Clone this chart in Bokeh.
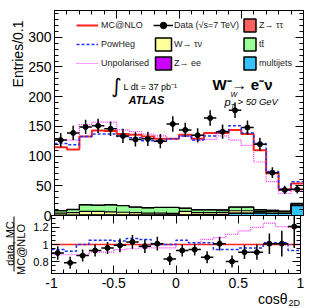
import numpy as np
from bokeh.plotting import figure
from bokeh.layouts import column, row
from bokeh.models import (Range1d, LinearAxis, SingleIntervalTicker, CustomJSTickFormatter,
                          Label, Legend, LegendItem, BoxAnnotation)
from bokeh.embed import file_html
from bokeh.resources import INLINE

# ---------------- data ----------------
bin_lo, bin_hi, n_bins = -1.0, 1.0, 20

data = [127, 139, 149, 151, 146, 134, 128, 129, 125, 154, 144, 135, 164, 141, 177, 148, 120, 72, 43, 44]
data_err = [12, 12, 12, 12, 12, 12, 12, 12, 12, 13, 12, 12, 13, 12, 13, 12, 11, 9, 7, 7]
mcnlo = [115, 111, 133, 143, 142, 137, 136, 133, 129, 129, 136, 129, 139, 139, 144, 137, 110, 71, 44, 54]
powheg = [121, 119, 133, 137, 137, 133, 131, 126, 126, 129, 134, 127, 134, 142, 151, 139, 121, 74, 44, 57]
unpol = [127, 127, 153, 157, 157, 144, 141, 137, 134, 129, 133, 127, 128, 134, 127, 118, 90, 57, 37, 42]

multijets = [0.2, 0.2, 0.3, 0.3, 0.3, 0.3, 0.4, 0.4, 0.5, 0.5, 0.6, 0.8, 1.0, 1.5, 3.5, 3.5, 4.0, 3.5, 3.5, 16.5]
zee = [0.6, 0.6, 0.7, 0.7, 0.7, 0.6, 0.6, 0.6, 0.6, 0.6, 0.6, 0.6, 0.6, 0.6, 0.6, 0.6, 0.6, 0.6, 0.5, 0.5]
wtaunu = [3.2, 4.2, 6.0, 6.0, 5.0, 4.6, 4.0, 3.0, 2.9, 2.4, 5.8, 3.6, 3.4, 3.0, 3.9, 3.9, 2.4, 2.9, 2.5, 1.0]
ttbar = [4.0, 5.0, 11.0, 10.0, 12.0, 11.0, 9.0, 9.0, 9.5, 10.0, 5.0, 4.5, 4.5, 4.0, 6.0, 6.0, 2.5, 1.5, 0.5, 2.0]
ztautau = [0.3] * 20

r_data = [0.90, 0.785, 0.87, 0.93, 0.96, 0.99, 1.03, 0.98, 1.01, 0.83, 0.93, 0.94, 0.85, 1.01, 0.80, 0.91, 0.91, 1.01, 1.01, 1.21]
r_data_err = [0.08, 0.07, 0.07, 0.07, 0.07, 0.08, 0.08, 0.08, 0.08, 0.07, 0.07, 0.07, 0.07, 0.08, 0.07, 0.08, 0.09, 0.12, 0.15, 0.25]
r_powheg = [0.94, 0.92, 1.0, 1.05, 1.05, 1.04, 1.07, 1.06, 1.0, 1.0, 1.05, 1.02, 1.02, 0.94, 0.94, 0.96, 0.96, 1.02, 1.02, 0.93]
r_unpol = [0.88, 0.88, 0.88, 0.91, 0.91, 0.94, 0.95, 0.96, 0.96, 0.96, 1.0, 1.0, 1.06, 1.08, 1.12, 1.16, 1.2, 1.25, 1.21, 1.2]
r_mcnlo = [m / m for m in mcnlo]

bkg_names = ["multijets", "Z\u2192 ee", "W\u2192 \u03c4\u03bd", "tt\u0304", "Z\u2192 \u03c4\u03c4"]
bkg_vals = [multijets, zee, wtaunu, ttbar, ztautau]
bkg_colors = ["#33c3ff", "#cc00ff", "#ffff99", "#99ff99", "#ff6060"]

FONT = "Liberation Sans"

main_lo, main_hi = 0, 345
ratio_lo, ratio_hi = 0.66, 1.34
FW = 249           # frame width
FL = 51            # frame left (page px)
FT = 10            # frame top
H1 = 205           # main frame height
HR = 58            # ratio frame height
OV = 8             # overlap of the ratio row over the main row's bottom border
BB2 = 22           # ratio bottom border (tick labels)
H3 = 20            # x-title strip
PAGE_W, PAGE_H = 316, 308
RB = PAGE_W - FL - FW

edges = np.linspace(bin_lo, bin_hi, n_bins + 1)
centers = 0.5 * (edges[:-1] + edges[1:])
half = 0.5 * (edges[1] - edges[0])


def sy(v):
    v = list(v)
    return v + [v[-1]]


fmt = CustomJSTickFormatter(code="return String(Math.round(tick*10)/10);")
blank = CustomJSTickFormatter(code="return '';")


def axis(ticker, labelled, size="14px", standoff=3, **kw):
    return LinearAxis(ticker=ticker, formatter=fmt if labelled else blank,
                      major_tick_in=8, major_tick_out=0, minor_tick_in=4, minor_tick_out=0,
                      axis_line_color="black", major_tick_line_color="black",
                      minor_tick_line_color="black",
                      major_label_standoff=standoff if labelled else 0,
                      major_label_text_font=FONT,
                      major_label_text_font_size=size if labelled else "0px",
                      major_label_text_color="black" if labelled else None, **kw)


def base_fig(fw, fh, xr, yr, bl, br, bt, bb, transparent=False):
    p = figure(frame_width=fw, frame_height=fh, min_border_left=bl, min_border_right=br,
               min_border_top=bt, min_border_bottom=bb,
               x_range=Range1d(*xr), y_range=Range1d(*yr),
               output_backend="svg", toolbar_location=None,
               x_axis_location=None, y_axis_location=None)
    p.grid.visible = False
    p.outline_line_color = "black"
    if transparent:
        p.outline_line_color = None
        p.background_fill_alpha = 0
        p.border_fill_alpha = 0
    else:
        p.background_fill_color = "white"
        p.border_fill_color = "white"
    return p


def lab(p, text, x, y, size, style="normal", align="left", base="middle", angle=0, font=FONT, color="black"):
    p.add_layout(Label(x=x, y=y, x_units="screen", y_units="screen", text=text,
                       text_font=font, text_font_size=size, text_font_style=style,
                       text_align=align, text_baseline=base, angle=angle, text_color=color))


xt = SingleIntervalTicker(interval=0.5, num_minor_ticks=5)

# ---------------- main panel ----------------
L1 = 25
p1 = base_fig(FW, H1, (bin_lo, bin_hi), (main_lo, main_hi), FL - L1, RB, FT, OV)
yt1 = SingleIntervalTicker(interval=50, num_minor_ticks=5)
p1.add_layout(axis(yt1, True), "left")
p1.add_layout(axis(yt1, False), "right")
p1.add_layout(axis(xt, False), "above")
p1.add_layout(axis(xt, False), "below")

cum = np.zeros(n_bins)
tops = []
boxes = {}
for name, vals, col in zip(bkg_names, bkg_vals, bkg_colors):
    low = cum.copy()
    cum = cum + np.array(vals)
    p1.varea_step(x=edges, y1=sy(low), y2=sy(cum), step_mode="after", fill_color=col)
    boxes[name] = p1.quad(left=edges[:-1], right=edges[1:], bottom=low, top=cum, fill_color=col,
                          line_color="black", line_width=1.5, visible=False)
    tops.append(cum.copy())
for t in tops:
    p1.step(x=edges, y=sy(t), mode="after", line_color="black", line_width=1.2)

r_unp = p1.step(x=edges, y=sy(unpol), mode="after", line_color="#ff33ff", line_width=1.2, line_dash="1 1")
r_red = p1.step(x=edges, y=sy(mcnlo), mode="after", line_color="#ff2020", line_width=2)
r_pow = p1.step(x=edges, y=sy(powheg), mode="after", line_color="#2030ff", line_width=1.5, line_dash="3 2")

d = np.array(data)
de = np.array(data_err)
p1.segment(x0=centers, x1=centers, y0=d - de, y1=d + de, line_color="black", line_width=1.5)
r_h = p1.segment(x0=centers - half, x1=centers + half, y0=d, y1=d, line_color="black", line_width=1.5)
r_pts = p1.scatter(x=centers, y=d, size=5, color="black")


def mk_legend(items, loc, gw, standoff):
    return Legend(items=items, location=loc, glyph_width=gw, glyph_height=16, label_height=16,
                  spacing=3, padding=0, margin=0, border_line_color=None,
                  background_fill_alpha=0, inactive_fill_alpha=0,
                  label_text_font=FONT, label_text_font_size="9px",
                  label_text_color="#222222", label_standoff=standoff)


leg1 = mk_legend([LegendItem(label="MC@NLO", renderers=[r_red]),
                  LegendItem(label="PowHeg", renderers=[r_pow]),
                  LegendItem(label="Unpolarised", renderers=[r_unp])], (22, 144), 22, 3)
leg2 = mk_legend([LegendItem(label="Data (\u221as=7 TeV)", renderers=[r_h, r_pts]),
                  LegendItem(label=bkg_names[2], renderers=[boxes[bkg_names[2]]]),
                  LegendItem(label=bkg_names[1], renderers=[boxes[bkg_names[1]]])], (99, 144), 20, 1)
leg3 = mk_legend([LegendItem(label=bkg_names[4], renderers=[boxes[bkg_names[4]]]),
                  LegendItem(label=bkg_names[3], renderers=[boxes[bkg_names[3]]]),
                  LegendItem(label=bkg_names[0], renderers=[boxes[bkg_names[0]]])], (188, 144), 15, 2)
for lg in (leg1, leg2, leg3):
    p1.add_layout(lg)

# texts inside the main frame (screen px from the frame's bottom-left)
lab(p1, "\u222b", 62, 130, "20px", align="center", font="DejaVu Sans")
lab(p1, "L dt = 37 pb\u207b\u00b9", 69, 129, "9px")
lab(p1, "ATLAS", 74, 116, "11px", style="bold italic")
lab(p1, "W\u207b\u2192 e\u207b\u03bd", 158, 131, "15px", style="bold")
lab(p1, "p", 170, 114, "11px", style="italic")
lab(p1, "W", 176, 121, "7px", style="italic")
lab(p1, "T", 176, 109, "7px", style="italic")
lab(p1, "> 50 GeV", 183, 114, "9.5px", style="italic")

# left label strip for main panel (frame bottom-left = page (0, FT+H1+OV))
l1 = base_fig(L1, FT + H1 + OV, (0, 1), (0, 1), 0, 0, 0, 0, transparent=True)
lab(l1, "Entries/0.1", 17, FT + H1 + OV - 10, "14px", align="right", base="alphabetic", angle=np.pi / 2)

# ---------------- ratio panel ----------------
L2 = 28
p2 = base_fig(FW, HR, (bin_lo, bin_hi), (ratio_lo, ratio_hi), FL - L2, RB, 0, BB2)
p2.border_fill_alpha = 0
yt2 = SingleIntervalTicker(interval=0.2, num_minor_ticks=4)
p2.add_layout(axis(yt2, True, "11px"), "left")
p2.add_layout(axis(yt2, False), "right")
p2.add_layout(axis(xt, False), "above")
p2.add_layout(axis(xt, True, "14px", 4), "below")

p2.step(x=edges, y=sy(r_unpol), mode="after", line_color="#ff33ff", line_width=1.2, line_dash="1 1")
p2.step(x=edges, y=sy(r_mcnlo), mode="after", line_color="#ff2020", line_width=1.5)
p2.step(x=edges, y=sy(r_powheg), mode="after", line_color="#2030ff", line_width=1.5, line_dash="3 2")
rd = np.array(r_data)
rde = np.array(r_data_err)
p2.segment(x0=centers, x1=centers, y0=rd - rde, y1=rd + rde, line_color="black", line_width=1.5)
p2.segment(x0=centers - half, x1=centers + half, y0=rd, y1=rd, line_color="black", line_width=1.5)
p2.scatter(x=centers, y=rd, size=5, color="black")

# left label strip for ratio panel (frame bottom-left = page (0, 295))
r2_bottom = FT + H1 + HR + BB2
l2 = base_fig(L2, HR + BB2, (0, 1), (0, 1), 0, 0, 0, 0, transparent=True)
lab(l2, "data, MC", 9, r2_bottom - 243, "11px", align="center", base="middle", angle=np.pi / 2)
l2.add_layout(BoxAnnotation(left=13, right=14, bottom=r2_bottom - 271, top=r2_bottom - 216,
                            left_units="screen", right_units="screen", bottom_units="screen",
                            top_units="screen", fill_color="black", fill_alpha=1, line_color=None))
lab(l2, "MC@NLO", 20, r2_bottom - 249, "11px", align="center", base="middle", angle=np.pi / 2)

# x-axis title strip (frame bottom-left = page (0, 308))
p3 = base_fig(PAGE_W, H3, (0, 1), (0, 1), 0, 0, 0, 0, transparent=True)
lab(p3, "cos\u03b8", 287, PAGE_H - 298, "14px", align="right", base="alphabetic")
lab(p3, "2D", 288, PAGE_H - 302, "9px", align="left", base="alphabetic")

row2 = row(l2, p2, spacing=0, styles={"margin-top": "-%dpx" % OV})
wrap3 = column(p3, spacing=0, styles={"margin-top": "-%dpx" % (r2_bottom + H3 - PAGE_H)})
layout = column(row(l1, p1, spacing=0), row2, wrap3, spacing=0)
open("out.html", "w").write(file_html(layout, INLINE))
